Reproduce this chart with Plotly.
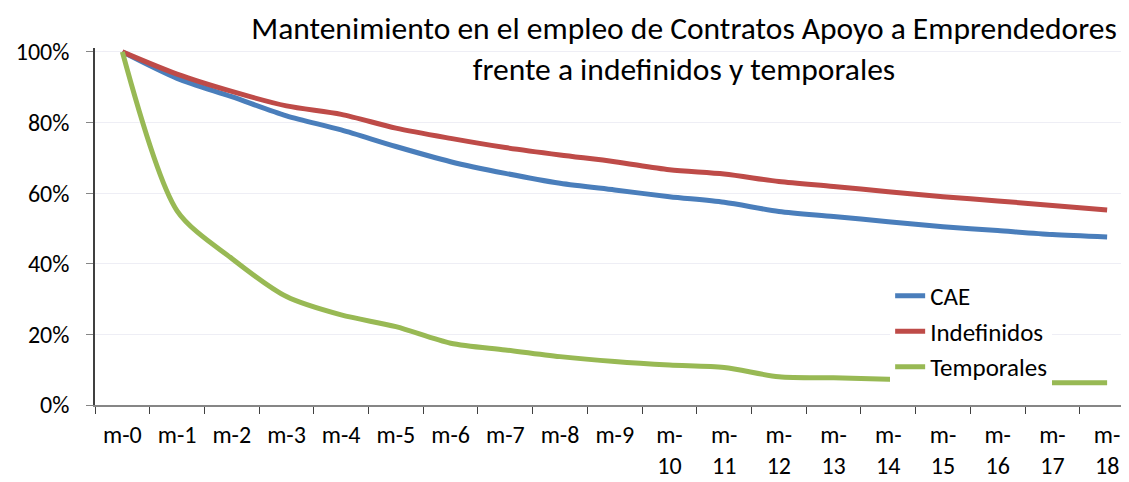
import plotly.graph_objects as go

categories = ["m-0", "m-1", "m-2", "m-3", "m-4", "m-5", "m-6", "m-7", "m-8", "m-9",
              "m-<br>10", "m-<br>11", "m-<br>12", "m-<br>13", "m-<br>14", "m-<br>15",
              "m-<br>16", "m-<br>17", "m-<br>18"]
cae = [100, 92.5, 87.3, 81.9, 77.9, 73.2, 68.9, 65.6, 62.8, 60.9,
       59.0, 57.4, 54.8, 53.4, 51.9, 50.5, 49.4, 48.3, 47.6]
indefinidos = [100, 93.7, 88.8, 84.7, 82.3, 78.4, 75.5, 72.9, 70.8, 68.9,
               66.6, 65.4, 63.3, 61.9, 60.4, 59.0, 57.8, 56.5, 55.2]
temporales = [100, 55.0, 41.5, 30.7, 25.5, 22.2, 17.5, 15.6, 13.7, 12.3,
              11.3, 10.6, 8.0, 7.7, 7.3, 6.9, 6.5, 6.3, 6.3]
ytick_vals = [0, 20, 40, 60, 80, 100]
ytick_text = ["0%", "20%", "40%", "60%", "80%", "100%"]

FONT = "Calibri, Carlito, Lato, sans-serif"

series = [("CAE", cae, "#4A7EBB"), ("Indefinidos", indefinidos, "#BE4B48"),
          ("Temporales", temporales, "#98B954")]

fig = go.Figure()
for name, vals, color in series:
    fig.add_trace(go.Scatter(
        x=categories, y=vals, name=name, mode="lines", legendgroup=name,
        line=dict(color=color, width=5, shape="spline", smoothing=0.8),
    ))

# page has an 8px body margin: figure is 1121x474 and offset by 8px
fig.update_layout(
    width=1121, height=474,
    margin=dict(l=87, r=0, t=40, b=77, autoexpand=False),
    paper_bgcolor="white", plot_bgcolor="white",
    font=dict(family=FONT, size=24, color="#000000"),
    title=dict(
        text="Mantenimiento en el empleo de Contratos Apoyo a Emprendedores<br>frente a indefinidos y temporales",
        x=0.603, xanchor="center", xref="container",
        y=0.935, yanchor="top", yref="container",
        font=dict(family=FONT, size=31.5, color="#000000"),
    ),
    legend=dict(
        x=0.769, xanchor="left", y=0.37, yanchor="top",
        bgcolor="white", borderwidth=0,
        font=dict(family=FONT, size=25, color="#000000"),
        tracegroupgap=0, traceorder="grouped",
    ),
    showlegend=True,
)
fig.update_xaxes(
    type="category", range=[-0.5, 18.4], automargin=False,
    showline=True, linecolor="#868686", linewidth=1.5,
    ticks="outside", tickson="boundaries", ticklen=7, tickcolor="#404040",
    showgrid=False, ticklabelstandoff=7,
    tickfont=dict(family=FONT, size=24),
)
fig.update_yaxes(
    range=[0, 101.1], tickvals=ytick_vals, ticktext=ytick_text, automargin=False,
    showline=True, linecolor="#404040", linewidth=1.5,
    ticks="outside", ticklen=7, tickcolor="#868686",
    showgrid=True, gridcolor="#EEEEF5", gridwidth=1,
    zeroline=False, ticklabelstandoff=12,
    tickfont=dict(family=FONT, size=24),
)

fig.write_html("out.html")
